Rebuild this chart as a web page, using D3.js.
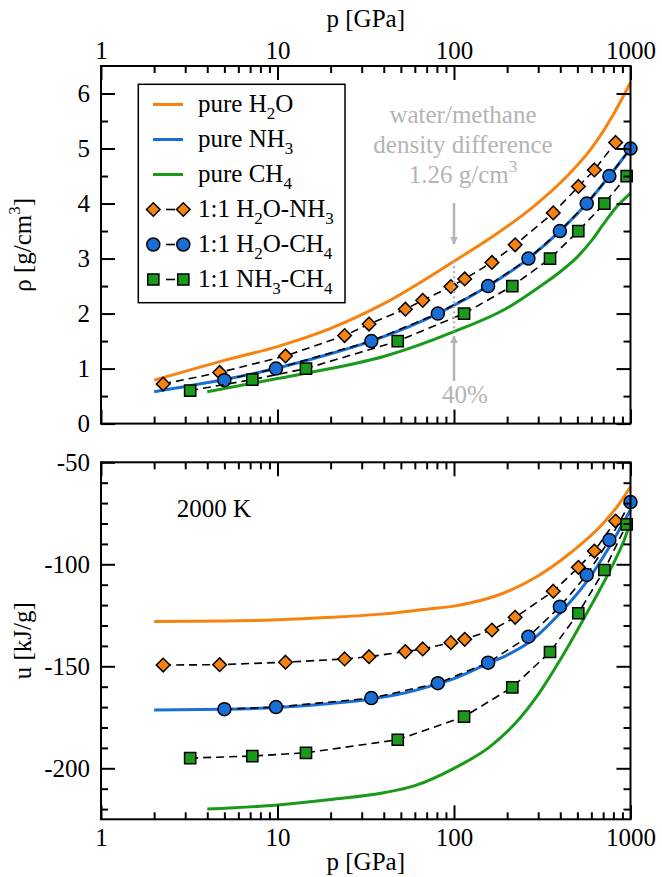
<!DOCTYPE html>
<html><head><meta charset="utf-8">
<script src="https://cdn.jsdelivr.net/npm/d3@7"></script>
<style>
body{margin:0;background:#fff}
text{font-family:"Liberation Serif","Times New Roman",serif}
</style>
</head><body>
<svg id="c" width="662" height="877"></svg>
<script>
// ---------- data ----------
const xTicks = [1, 10, 100, 1000];
const rhoTicks = [0, 1, 2, 3, 4, 5, 6];
const rhoMinor = [0.5, 1.5, 2.5, 3.5, 4.5, 5.5];
const uTicks = [-200, -150, -100, -50];
const uMinor = [-220, -210, -190, -180, -170, -160, -140, -130, -120, -110, -90, -80, -70, -60];

// pure compounds, density
const h2oRhoP = [2, 3, 5, 10, 20, 40, 100, 182, 281, 435, 590, 800, 1000];
const h2oRhoV = [0.79, 0.95, 1.15, 1.40, 1.73, 2.18, 2.95, 3.49, 3.94, 4.49, 4.97, 5.62, 6.2];
const nh3RhoP = [2, 5, 10, 20, 34, 81, 156, 264, 398, 565, 759, 1000];
const nh3RhoV = [0.58, 0.8, 1.01, 1.27, 1.5, 2.0, 2.5, 3.0, 3.5, 4.0, 4.5, 5.0];
const ch4RhoP = [4, 10, 20, 40, 100, 200, 300, 400, 500, 600, 700, 835, 1000];
const ch4RhoV = [0.58, 0.82, 1.0, 1.22, 1.67, 2.1, 2.47, 2.76, 3.03, 3.32, 3.62, 3.94, 4.19];

// pure compounds, internal energy
const h2oUP = [2, 5, 10, 20, 40, 70, 100, 123, 190, 294, 454, 701, 867, 1000];
const h2oUV = [-128, -127.8, -127.2, -126, -124.3, -122, -120.5, -119, -114.2, -106.1, -94.6, -79.9, -70.1, -62];
const nh3UP = [2, 5, 10, 20, 34, 50, 81, 100, 156, 200, 264, 398, 565, 759, 1000];
const nh3UV = [-171.4, -171.1, -170.2, -168.2, -166, -163.5, -158.6, -156, -148.6, -144.5, -138.5, -124, -108.5, -91.5, -73.3];
const ch4UP = [4, 10, 20, 40, 60, 100, 160, 236, 294, 335, 399, 454, 565, 701, 835, 951, 1000];
const ch4UV = [-220, -218, -215.3, -212, -208.5, -200, -189.4, -175.5, -164.9, -157.5, -146.9, -138.7, -124, -109.3, -96.3, -84.8, -78];

// 1:1 mixtures
const hnP = [2.25, 4.7, 11.1, 24, 33, 53, 66.5, 96, 115, 164, 222, 365, 507, 624, 824];
const hnRho = [0.72, 0.93, 1.23, 1.60, 1.81, 2.08, 2.24, 2.49, 2.63, 2.93, 3.25, 3.83, 4.31, 4.61, 5.11];
const hnU = [-149.4, -149.2, -148, -146.4, -145.3, -142.8, -141.5, -138.4, -136.8, -132.2, -126, -113.2, -101.5, -93.5, -78.8];

const hcP = [5, 9.8, 34, 81, 156, 264, 398, 565, 759, 1000];
const hcRho = [0.79, 1.0, 1.5, 2.0, 2.5, 3.0, 3.5, 4.0, 4.5, 5.0];
const hcU = [-171, -170, -165.6, -158.3, -148.2, -135.5, -120.8, -105.2, -88.1, -69.5];

const ncP = [3.2, 7.2, 14.5, 48, 114, 214, 350, 506, 711, 951];
const ncRho = [0.6, 0.8, 1.0, 1.5, 2.0, 2.5, 3.0, 3.5, 4.0, 4.5];
const ncU = [-195, -194, -192.4, -186, -174.7, -160.3, -143, -124, -102.8, -80.4];

const legendLabels = ["pure H_2O", "pure NH_3", "pure CH_4", "1:1 H_2O-NH_3", "1:1 H_2O-CH_4", "1:1 NH_3-CH_4"];
const noteLines = ["water/methane", "density difference", "1.26 g/cm^3"];
const noteArrowP = 100;
const gapTop = 2.95, gapBottom = 1.67; // density values bracketing the dotted line
const pctLabel = "40%";
const tempLabel = "2000 K";

// ---------- styles ----------
const C = {orange: "#f7820f", blue: "#1a6fd6", green: "#1a9a1a", gray: "#b4b4b4"};
const FS = 25;

// ---------- scales ----------
const x = d3.scaleLog().domain([1, 1000]).range([101, 630.5]);
const yR = d3.scaleLinear().domain([0, 6.5]).range([423.6, 66]);
const yU = d3.scaleLinear().domain([-225, -50]).range([819.3, 462.3]);

const xMinor = [];
[1, 10, 100].forEach(d => [2,3,4,5,6,7,8,9].forEach(m => xMinor.push(d * m)));

const svg = d3.select("#c");

function rich(t, str, subSize) {
  const re = /([_^])(\d)/g; let last = 0, m; const parts = [];
  while ((m = re.exec(str))) {
    if (m.index > last) parts.push({t: str.slice(last, m.index), k: 0});
    parts.push({t: m[2], k: m[1]}); last = re.lastIndex;
  }
  if (last < str.length) parts.push({t: str.slice(last), k: 0});
  let cur = 0;
  parts.forEach(p => {
    const off = p.k === "_" ? 7 : p.k === "^" ? -11 : 0;
    const ts = t.append("tspan").attr("dy", off - cur).text(p.t);
    if (p.k) ts.attr("font-size", subSize);
    cur = off;
  });
}

const line = (xs, ys) => d3.line().x(d => x(d[0])).y(d => ys(d[1]));

function drawPanel(ys, pure, mixes) {
  const g = svg.append("g");
  pure.forEach(s => {
    g.append("path").datum(d3.zip(s.p, s.v))
      .attr("fill", "none").attr("stroke", s.color).attr("stroke-width", 3)
      .attr("d", line(s.p, ys).curve(d3.curveMonotoneX));
  });
  mixes.forEach(s => {
    const data = d3.zip(s.p, s.v);
    g.append("path").datum(data)
      .attr("fill", "none").attr("stroke", "#000").attr("stroke-width", 1.6)
      .attr("stroke-dasharray", "8,5")
      .attr("d", line(s.p, ys).curve(d3.curveLinear));
    g.selectAll(null).data(data).enter().append("path")
      .attr("transform", d => `translate(${x(d[0])},${ys(d[1])})`)
      .attr("d", s.shape).attr("fill", s.color)
      .attr("stroke", "#000").attr("stroke-width", 1.5);
  });
}

const diamond = "M0,-6.8L6.8,0L0,6.8L-6.8,0Z";
const circle = "M6.5,0A6.5,6.5 0 1,1 -6.5,0A6.5,6.5 0 1,1 6.5,0Z";
const square = "M-5.6,-5.6H5.6V5.6H-5.6Z";

drawPanel(yR,
  [{p: h2oRhoP, v: h2oRhoV, color: C.orange}, {p: nh3RhoP, v: nh3RhoV, color: C.blue}, {p: ch4RhoP, v: ch4RhoV, color: C.green}],
  [{p: hnP, v: hnRho, color: C.orange, shape: diamond}, {p: hcP, v: hcRho, color: C.blue, shape: circle}, {p: ncP, v: ncRho, color: C.green, shape: square}]);
drawPanel(yU,
  [{p: h2oUP, v: h2oUV, color: C.orange}, {p: nh3UP, v: nh3UV, color: C.blue}, {p: ch4UP, v: ch4UV, color: C.green}],
  [{p: hnP, v: hnU, color: C.orange, shape: diamond}, {p: hcP, v: hcU, color: C.blue, shape: circle}, {p: ncP, v: ncU, color: C.green, shape: square}]);

// ---------- axes ----------
function styleAxis(g) {
  g.select(".domain").remove();
  g.selectAll("line").attr("stroke", "#000").attr("stroke-width", 2);
  g.selectAll("text").attr("font-size", FS).attr("fill", "#000")
    .attr("font-family", '"Liberation Serif","Times New Roman",serif');
}
function axes(ys, yMaj, yMin, showTop, showBottom, yFmt) {
  const [y0, y1] = ys.range(); // bottom, top
  const [x0, x1] = x.range();
  svg.append("g").attr("transform", `translate(0,${y0})`)
    .call(d3.axisBottom(x).tickValues(xTicks).tickSize(-14).tickSizeOuter(0).tickPadding(9)
      .tickFormat(showBottom ? d3.format("d") : ""))
    .call(styleAxis);
  svg.append("g").attr("transform", `translate(0,${y0})`)
    .call(d3.axisBottom(x).tickValues(xMinor).tickSize(-7).tickSizeOuter(0).tickFormat(""))
    .call(styleAxis);
  svg.append("g").attr("transform", `translate(0,${y1})`)
    .call(d3.axisTop(x).tickValues(xTicks).tickSize(-14).tickSizeOuter(0).tickPadding(7)
      .tickFormat(showTop ? d3.format("d") : ""))
    .call(styleAxis);
  svg.append("g").attr("transform", `translate(0,${y1})`)
    .call(d3.axisTop(x).tickValues(xMinor).tickSize(-7).tickSizeOuter(0).tickFormat(""))
    .call(styleAxis);
  svg.append("g").attr("transform", `translate(${x0},0)`)
    .call(d3.axisLeft(ys).tickValues(yMaj).tickSize(-14).tickSizeOuter(0).tickPadding(11).tickFormat(yFmt))
    .call(styleAxis);
  svg.append("g").attr("transform", `translate(${x0},0)`)
    .call(d3.axisLeft(ys).tickValues(yMin).tickSize(-7).tickSizeOuter(0).tickFormat(""))
    .call(styleAxis);
  svg.append("g").attr("transform", `translate(${x1},0)`)
    .call(d3.axisRight(ys).tickValues(yMaj).tickSize(-14).tickSizeOuter(0).tickFormat(""))
    .call(styleAxis);
  svg.append("g").attr("transform", `translate(${x1},0)`)
    .call(d3.axisRight(ys).tickValues(yMin).tickSize(-7).tickSizeOuter(0).tickFormat(""))
    .call(styleAxis);
  svg.append("rect").attr("x", x0).attr("y", y1).attr("width", x1 - x0).attr("height", y0 - y1)
    .attr("fill", "none").attr("stroke", "#000").attr("stroke-width", 2);
}
axes(yR, rhoTicks, rhoMinor, true, false, d => String(d));
axes(yU, uTicks, uMinor, false, true, d => String(d));

// axis titles
const xMid = (x.range()[0] + x.range()[1]) / 2;
svg.append("text").attr("x", xMid).attr("y", 27).attr("text-anchor", "middle").attr("font-size", FS).text("p [GPa]");
svg.append("text").attr("x", xMid).attr("y", 870).attr("text-anchor", "middle").attr("font-size", FS).text("p [GPa]");
const rt = svg.append("text").attr("transform", `translate(31,${(yR.range()[0] + yR.range()[1]) / 2}) rotate(-90)`)
  .attr("text-anchor", "middle").attr("font-size", FS);
rich(rt, "ρ [g/cm^3]", 17);
svg.append("text").attr("transform", `translate(31,${(yU.range()[0] + yU.range()[1]) / 2}) rotate(-90)`)
  .attr("text-anchor", "middle").attr("font-size", FS).text("u [kJ/g]");

// ---------- legend ----------
const lg = svg.append("g");
lg.append("rect").attr("x", 138.3).attr("y", 84.3).attr("width", 206.7).attr("height", 218.4)
  .attr("fill", "#fff").attr("stroke", "#000").attr("stroke-width", 1.5);
const legendStyles = [
  {type: "line", color: C.orange}, {type: "line", color: C.blue}, {type: "line", color: C.green},
  {type: "sym", color: C.orange, shape: diamond}, {type: "sym", color: C.blue, shape: circle}, {type: "sym", color: C.green, shape: square}
];
legendLabels.forEach((lab, i) => {
  const by = 111.5 + i * 35, cy = by - 7;
  const st = legendStyles[i];
  if (st.type === "line") {
    lg.append("line").attr("x1", 153).attr("x2", 183).attr("y1", cy).attr("y2", cy)
      .attr("stroke", st.color).attr("stroke-width", 3);
  } else {
    lg.append("line").attr("x1", 166).attr("x2", 175).attr("y1", cy).attr("y2", cy)
      .attr("stroke", "#000").attr("stroke-width", 1.6);
    [153.3, 183.3].forEach(px => lg.append("path").attr("transform", `translate(${px},${cy})`)
      .attr("d", st.shape).attr("fill", st.color).attr("stroke", "#000").attr("stroke-width", 1.5));
  }
  const t = lg.append("text").attr("x", 198).attr("y", by).attr("font-size", FS);
  rich(t, lab, 17);
});

// ---------- annotations ----------
const ax = x(noteArrowP);
svg.append("defs").append("marker").attr("id", "ah").attr("viewBox", "0 0 10 10")
  .attr("refX", 9).attr("refY", 5).attr("markerWidth", 3.2).attr("markerHeight", 3.2)
  .attr("markerUnits", "strokeWidth").attr("orient", "auto")
  .append("path").attr("d", "M0,0L10,5L0,10Z").attr("fill", C.gray);
[123.3, 152.7, 183.3].forEach((by, i) => {
  const t = svg.append("text").attr("x", 463).attr("y", by).attr("text-anchor", "middle")
    .attr("font-size", FS).attr("fill", C.gray);
  rich(t, noteLines[i], 17);
});
svg.append("line").attr("x1", ax).attr("x2", ax).attr("y1", 203).attr("y2", 244)
  .attr("stroke", C.gray).attr("stroke-width", 2.5).attr("marker-end", "url(#ah)");
svg.append("line").attr("x1", ax).attr("x2", ax).attr("y1", yR(gapTop)).attr("y2", yR(gapBottom))
  .attr("stroke", C.gray).attr("stroke-width", 2.5).attr("stroke-dasharray", "2,3");
svg.append("line").attr("x1", ax).attr("x2", ax).attr("y1", 381).attr("y2", 336)
  .attr("stroke", C.gray).attr("stroke-width", 2.5).attr("marker-end", "url(#ah)");
svg.append("text").attr("x", 465).attr("y", 403).attr("text-anchor", "middle")
  .attr("font-size", FS).attr("fill", C.gray).text(pctLabel);
svg.append("text").attr("x", 176.7).attr("y", 517).attr("font-size", FS).text(tempLabel);
</script>
</body></html>
